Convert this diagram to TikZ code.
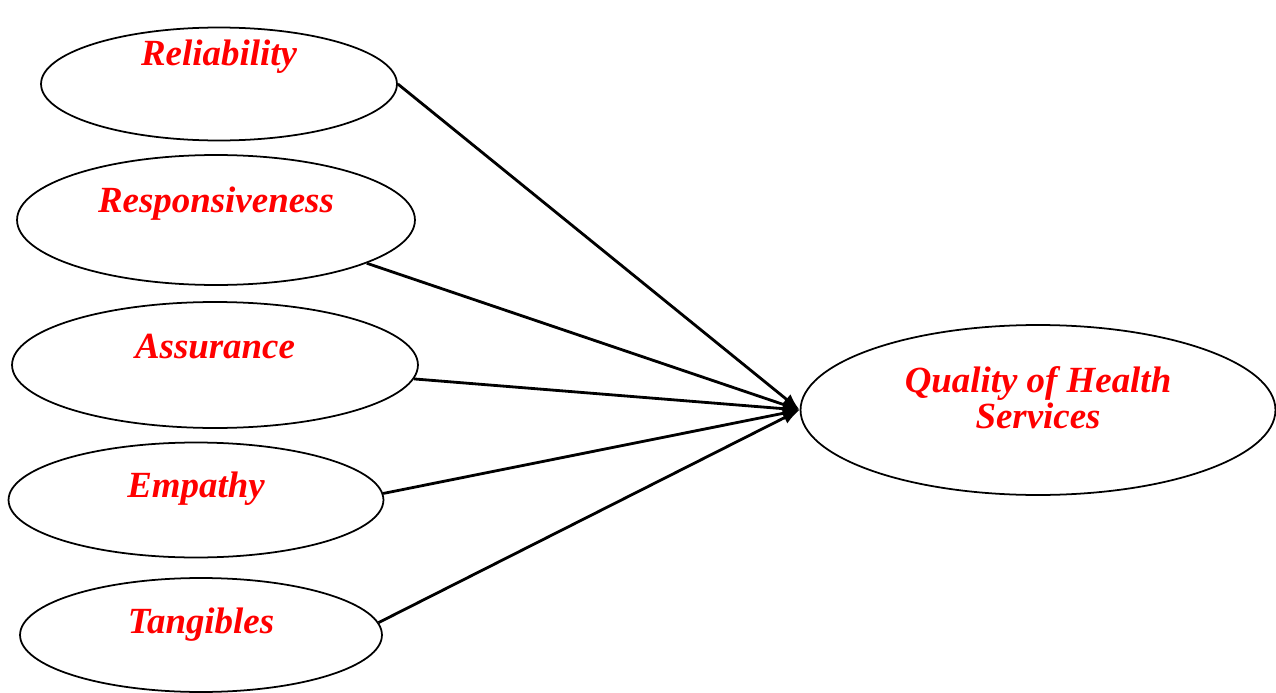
\documentclass[tikz,border=0pt]{standalone}
\usepackage{fontspec}
\setmainfont{Liberation Serif}
\usetikzlibrary{shapes.geometric, arrows.meta}

\newcommand{\dimfont}{\fontsize{21}{20.5}\selectfont\bfseries\itshape}
\newcommand{\lifted}[2]{\raisebox{#1}[0pt][0pt]{#2}}

\begin{document}
\begin{tikzpicture}[x=0.02cm, y=-0.02cm,
		main/.style = {draw, ellipse, line width=1pt, inner sep=0pt, text=red, font=\dimfont},
		link/.style = {line width=1.6pt, -{Latex[length=3.4mm, width=2.6mm]}}]
				\useasboundingbox (0,0) rectangle (1276,693);

				% dimensions
				\node[main, minimum width=7.12cm, minimum height=2.26cm] (rel) at (219,84) {\lifted{0.38cm}{Reliability}};
				\node[main, minimum width=7.96cm, minimum height=2.6cm] (rsp) at (216,220) {\lifted{0.16cm}{Responsiveness}};
				\node[main, minimum width=8.12cm, minimum height=2.52cm] (asr) at (215,365) {\lifted{0.14cm}{Assurance}};
				\node[main, minimum width=7.5cm, minimum height=2.3cm] (emp) at (196,500) {\lifted{0.06cm}{Empathy}};
				\node[main, minimum width=7.24cm, minimum height=2.28cm] (tan) at (201,635) {\lifted{0.04cm}{Tangibles}};

				% outcome
				\node[main, minimum width=9.5cm, minimum height=3.4cm] (qhs) at (1038,410) {\lifted{0.36cm}{\begin{tabular}[t]{@{}c@{}}Quality of Health\\Services\end{tabular}}};

				\draw[link] (rel.east) -- (qhs.west);
				\draw[link] (rsp.-16) -- (qhs.west);
				\draw[link] (asr.-4) -- (qhs.west);
				\draw[link] (emp.2) -- (qhs.west);
				\draw[link] (tan.4) -- (qhs.west);

			\end{tikzpicture}
\end{document}
